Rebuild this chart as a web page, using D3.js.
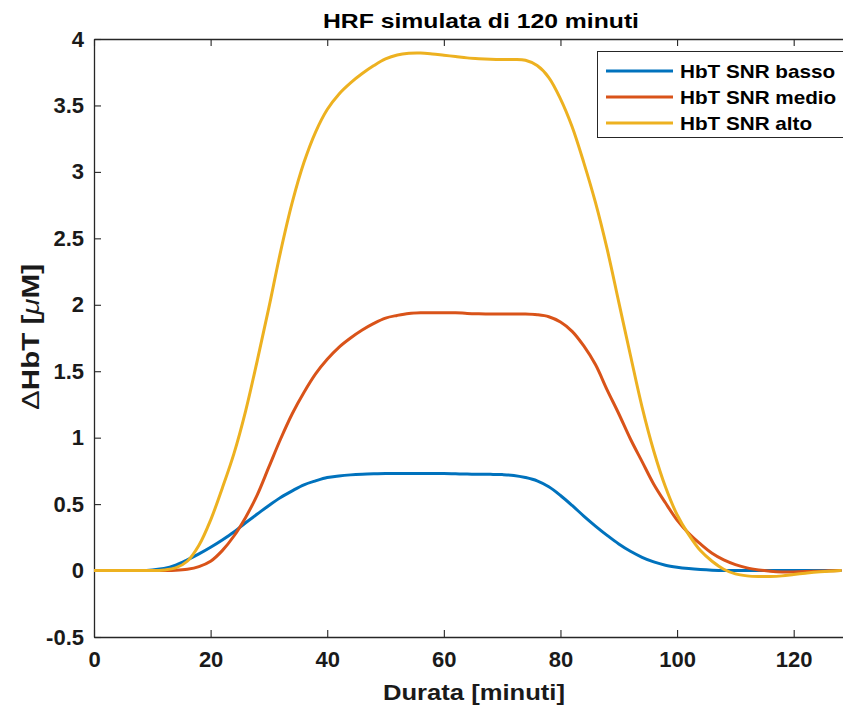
<!DOCTYPE html>
<html>
<head>
<meta charset="utf-8">
<script src="https://cdn.jsdelivr.net/npm/d3@7"></script>
<style>
  html, body { margin: 0; padding: 0; background: #ffffff; }
  svg { display: block; }
  text { font-family: "Liberation Sans", Arial, Helvetica, sans-serif; font-weight: bold; }
</style>
</head>
<body>
<svg id="chart" width="843" height="708"></svg>
<script>
// ---- data ----
const minutes = [0,2,4,6,8,10,12,14,16,18,20,22,24,26,28,30,32,34,36,38,40,42,44,46,48,50,52,54,56,58,60,62,64,66,68,70,72,74,76,78,80,82,84,86,88,90,92,94,96,98,100,102,104,106,108,110,112,114,116,118,120,122,124,126,128];

const hbtBasso = [0,0,0,0,0,0.005,0.015,0.04,0.08,0.125,0.175,0.23,0.29,0.36,0.425,0.49,0.55,0.60,0.645,0.675,0.70,0.712,0.72,0.725,0.728,0.73,0.73,0.73,0.73,0.73,0.73,0.728,0.726,0.725,0.724,0.722,0.716,0.70,0.675,0.63,0.565,0.49,0.41,0.335,0.265,0.20,0.145,0.10,0.065,0.04,0.025,0.015,0.008,0.003,0,0,0,0,0,0,0,0,0,0,0];

const hbtMedio = [0,0,0,0,0,0,0,0.002,0.01,0.03,0.07,0.15,0.26,0.40,0.57,0.78,0.99,1.18,1.34,1.48,1.59,1.68,1.75,1.81,1.86,1.90,1.92,1.935,1.94,1.94,1.94,1.94,1.935,1.932,1.93,1.93,1.93,1.93,1.925,1.91,1.87,1.80,1.69,1.55,1.36,1.18,0.99,0.82,0.65,0.51,0.38,0.28,0.20,0.13,0.08,0.045,0.02,0.005,-0.005,-0.01,-0.01,-0.008,-0.005,-0.002,0];

const hbtAlto = [0,0,0,0,0,0,0.005,0.02,0.07,0.19,0.38,0.62,0.88,1.20,1.58,1.98,2.40,2.77,3.07,3.30,3.47,3.585,3.67,3.74,3.80,3.85,3.88,3.893,3.895,3.888,3.878,3.868,3.858,3.852,3.848,3.846,3.846,3.84,3.80,3.71,3.55,3.34,3.07,2.77,2.42,2.02,1.62,1.23,0.90,0.63,0.42,0.27,0.15,0.07,0.01,-0.025,-0.04,-0.045,-0.045,-0.04,-0.03,-0.02,-0.01,-0.005,0];

const seriesNames = ["HbT SNR basso", "HbT SNR medio", "HbT SNR alto"];
const seriesColors = ["#0072BD", "#D95319", "#EDB120"];
const xTicks = [0, 20, 40, 60, 80, 100, 120];
const yTicks = [-0.5, 0, 0.5, 1, 1.5, 2, 2.5, 3, 3.5, 4];
const xDomain = [0, 130];
const yDomain = [-0.5, 4];
const titleText = "HRF simulata di 120 minuti";
const xLabelText = "Durata [minuti]";

// ---- layout ----
const svg = d3.select("#chart");
const mLeft = 94, mRight = 852, mTop = 39, mBottom = 637;
const axisColor = "#262626";

const x = d3.scaleLinear().domain(xDomain).range([mLeft, mRight]);
const y = d3.scaleLinear().domain(yDomain).range([mBottom, mTop]);

svg.append("rect").attr("width", 843).attr("height", 708).attr("fill", "#fff");

svg.append("clipPath").attr("id", "plotclip")
  .append("rect").attr("x", mLeft).attr("y", mTop).attr("width", mRight - mLeft).attr("height", mBottom - mTop);

const tickLen = 7;
const xAxisB = d3.axisBottom(x).tickValues(xTicks).tickSizeInner(-tickLen).tickSizeOuter(0).tickPadding(14).tickFormat(d3.format("d"));
const xAxisT = d3.axisTop(x).tickValues(xTicks).tickSizeInner(-tickLen).tickSizeOuter(0).tickFormat("");
const yAxisL = d3.axisLeft(y).tickValues(yTicks).tickSizeInner(-tickLen).tickSizeOuter(0).tickPadding(10).tickFormat(d => String(d));

function styleAxis(g) {
  g.select(".domain").attr("stroke", axisColor).attr("stroke-width", 1.3);
  g.selectAll(".tick line").attr("stroke", axisColor).attr("stroke-width", 1.1);
  g.selectAll(".tick text").attr("fill", "#1a1a1a").style("font-size", "22px").style("font-weight", "bold")
    .style("font-family", "'Liberation Sans', Arial, sans-serif");
}

svg.append("g").attr("transform", `translate(0,${mBottom})`).call(xAxisB).call(styleAxis);
svg.append("g").attr("transform", `translate(0,${mTop})`).call(xAxisT).call(styleAxis);
svg.append("g").attr("transform", `translate(${mLeft},0)`).call(yAxisL).call(styleAxis);

const series = [hbtBasso, hbtMedio, hbtAlto];
const line = d3.line()
  .x((d, i) => x(minutes[i]))
  .y(d => y(d))
  .curve(d3.curveCatmullRom.alpha(0.5));

const gData = svg.append("g").attr("clip-path", "url(#plotclip)");
series.forEach((vals, k) => {
  gData.append("path")
    .datum(vals)
    .attr("d", line)
    .attr("fill", "none")
    .attr("stroke", seriesColors[k])
    .attr("stroke-width", 3)
    .attr("stroke-linejoin", "round")
    .attr("stroke-linecap", "round");
});

svg.append("text")
  .attr("x", 481).attr("y", 28)
  .attr("text-anchor", "middle")
  .attr("fill", "#000")
  .style("font-size", "21px")
  .attr("textLength", 316).attr("lengthAdjust", "spacingAndGlyphs")
  .text(titleText);

svg.append("text")
  .attr("x", 474).attr("y", 700)
  .attr("text-anchor", "middle")
  .attr("fill", "#1a1a1a")
  .style("font-size", "22px")
  .attr("textLength", 182).attr("lengthAdjust", "spacingAndGlyphs")
  .text(xLabelText);

const yl = svg.append("text")
  .attr("transform", `translate(39,337) rotate(-90)`)
  .attr("text-anchor", "middle")
  .attr("fill", "#1a1a1a")
  .style("font-size", "24px")
  .attr("textLength", 146).attr("lengthAdjust", "spacingAndGlyphs")
  .style("font-weight", "normal");
yl.append("tspan").text("\u0394").style("font-weight", "normal");
yl.append("tspan").text("HbT [").style("font-weight", "bold");
yl.append("tspan").text("\u03BC").style("font-style", "italic").style("font-weight", "normal");
yl.append("tspan").text("M]").style("font-weight", "bold");

const lg = svg.append("g");
lg.append("rect")
  .attr("x", 597.5).attr("y", 51.5).attr("width", 260).attr("height", 86)
  .attr("fill", "#fff").attr("stroke", axisColor).attr("stroke-width", 1);
const rowY = [71, 97, 123];
seriesNames.forEach((name, k) => {
  lg.append("line")
    .attr("x1", 606).attr("x2", 673).attr("y1", rowY[k]).attr("y2", rowY[k])
    .attr("stroke", seriesColors[k]).attr("stroke-width", 3);
  lg.append("text")
    .attr("transform", `translate(680,${rowY[k] + 7}) scale(1.15,1)`)
    .attr("fill", "#000")
    .style("font-size", "18px")
    .text(name);
});
</script>
</body>
</html>
